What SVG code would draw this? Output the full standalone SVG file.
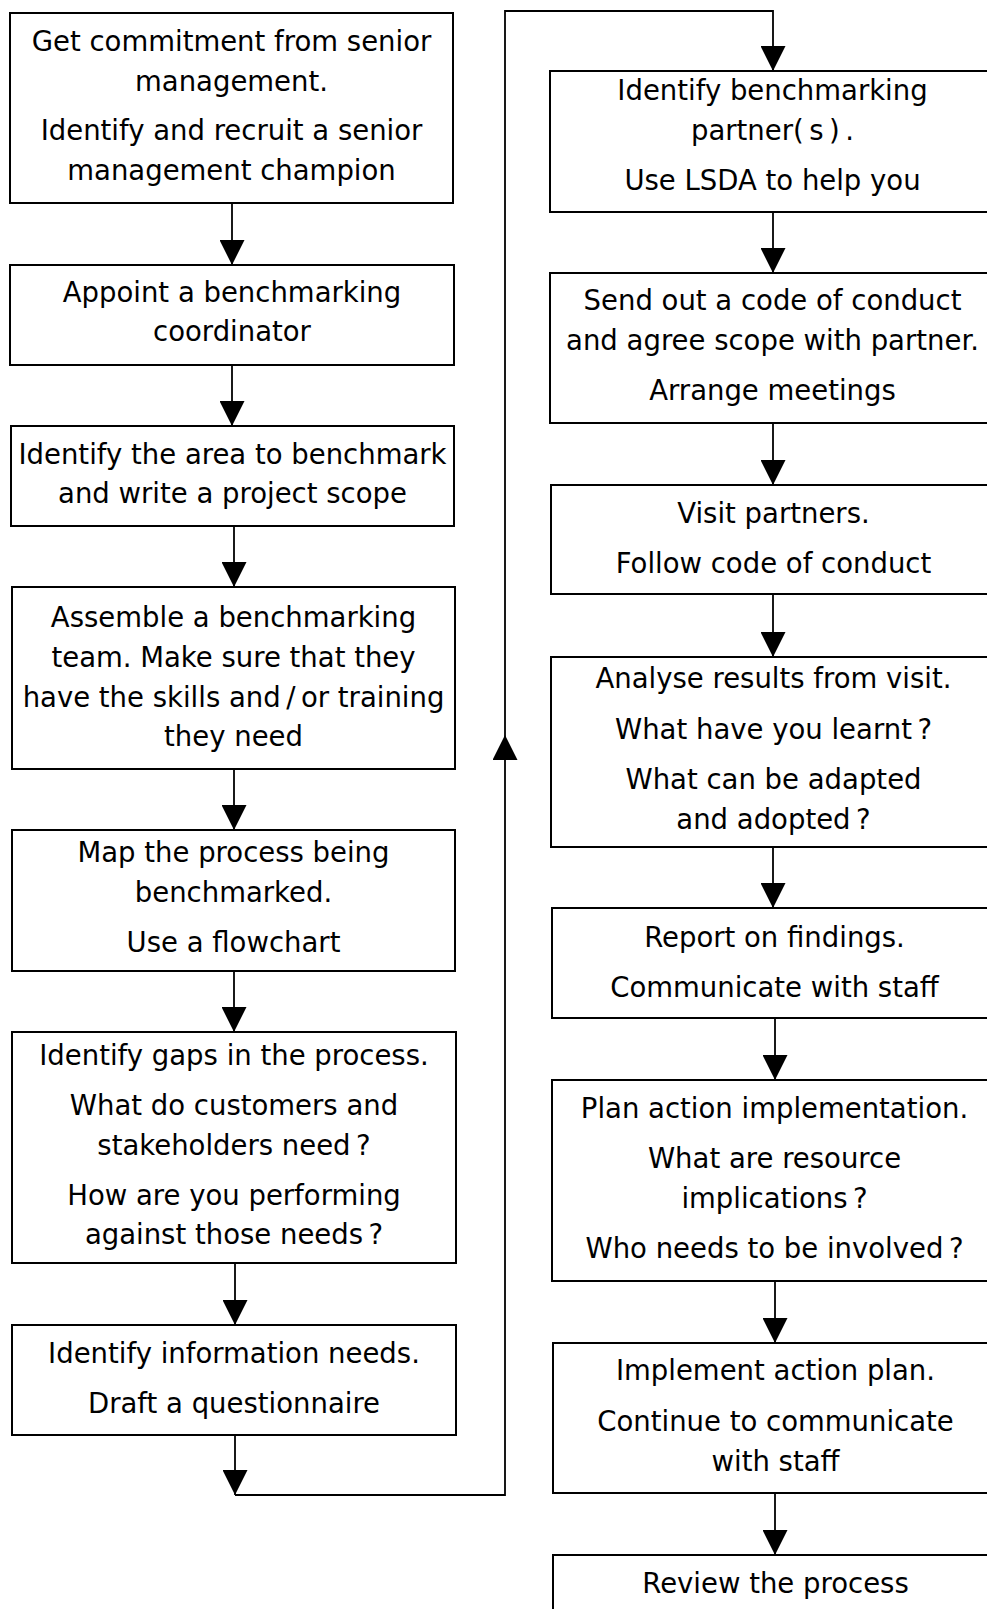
<svg xmlns="http://www.w3.org/2000/svg" width="987" height="1609" viewBox="0 0 987 1609">
<style>
.box{fill:#fff;stroke:#000;stroke-width:2}
.t{font-family:"DejaVu Sans",sans-serif;font-size:27.5px;fill:#000;text-anchor:middle}
.c{fill:none;stroke:#000;stroke-width:1.8}
</style>
<defs>
<marker id="ah" viewBox="0 0 25 25" refX="25" refY="12.5" markerWidth="25" markerHeight="25" markerUnits="userSpaceOnUse" orient="auto">
<path d="M0,0 L25,12.5 L0,25 z" fill="#000"/>
</marker>
</defs>
<rect x="0" y="0" width="987" height="1609" fill="#fff"/>
<g id="connectors">
<path class="c" marker-end="url(#ah)" d="M232,203 V265"/>
<path class="c" marker-end="url(#ah)" d="M232,365 V426"/>
<path class="c" marker-end="url(#ah)" d="M234,526 V587"/>
<path class="c" marker-end="url(#ah)" d="M234,769 V830"/>
<path class="c" marker-end="url(#ah)" d="M234,971 V1032"/>
<path class="c" marker-end="url(#ah)" d="M235,1263 V1325"/>
<path class="c" marker-end="url(#ah)" d="M235,1435 V1495"/>
<path class="c" marker-end="url(#ah)" d="M235,1495 H505 V735"/>
<path class="c" marker-end="url(#ah)" d="M505,735 V11 H773 V71"/>
<path class="c" marker-end="url(#ah)" d="M773,212 V273"/>
<path class="c" marker-end="url(#ah)" d="M773,423 V485"/>
<path class="c" marker-end="url(#ah)" d="M773,594 V657"/>
<path class="c" marker-end="url(#ah)" d="M773,847 V908"/>
<path class="c" marker-end="url(#ah)" d="M775,1018 V1080"/>
<path class="c" marker-end="url(#ah)" d="M775,1281 V1343"/>
<path class="c" marker-end="url(#ah)" d="M775,1493 V1555"/>
</g>
<g id="n1">
<rect class="box" x="10" y="13" width="443" height="190"/>
<text class="t" x="231.5" y="51">Get commitment from senior</text>
<text class="t" x="231.5" y="91">management.</text>
<text class="t" x="231.5" y="140">Identify and recruit a senior</text>
<text class="t" x="231.5" y="180">management champion</text>
</g>
<g id="n2">
<rect class="box" x="10" y="265" width="444" height="100"/>
<text class="t" x="232" y="302">Appoint a benchmarking</text>
<text class="t" x="232" y="341">coordinator</text>
</g>
<g id="n3">
<rect class="box" x="11" y="426" width="443" height="100"/>
<text class="t" x="232.5" y="464">Identify the area to benchmark</text>
<text class="t" x="232.5" y="503">and write a project scope</text>
</g>
<g id="n4">
<rect class="box" x="12" y="587" width="443" height="182"/>
<text class="t" x="233.5" y="627">Assemble a benchmarking</text>
<text class="t" x="233.5" y="667">team. Make sure that they</text>
<text class="t" x="233.5" y="707">have the skills and&#8201;/&#8201;or training</text>
<text class="t" x="233.5" y="746">they need</text>
</g>
<g id="n5">
<rect class="box" x="12" y="830" width="443" height="141"/>
<text class="t" x="233.5" y="862">Map the process being</text>
<text class="t" x="233.5" y="902">benchmarked.</text>
<text class="t" x="233.5" y="952">Use a flowchart</text>
</g>
<g id="n6">
<rect class="box" x="12" y="1032" width="444" height="231"/>
<text class="t" x="234" y="1065">Identify gaps in the process.</text>
<text class="t" x="234" y="1115">What do customers and</text>
<text class="t" x="234" y="1155">stakeholders need&#8201;?</text>
<text class="t" x="234" y="1205">How are you performing</text>
<text class="t" x="234" y="1244">against those needs&#8201;?</text>
</g>
<g id="n7">
<rect class="box" x="12" y="1325" width="444" height="110"/>
<text class="t" x="234" y="1363">Identify information needs.</text>
<text class="t" x="234" y="1413">Draft a questionnaire</text>
</g>
<g id="n8">
<rect class="box" x="550" y="71" width="445" height="141"/>
<text class="t" x="772.5" y="100">Identify benchmarking</text>
<text class="t" x="772.5" y="140">partner(&#8201;s&#8201;)&#8201;.</text>
<text class="t" x="772.5" y="190">Use LSDA to help you</text>
</g>
<g id="n9">
<rect class="box" x="550" y="273" width="445" height="150"/>
<text class="t" x="772.5" y="310">Send out a code of conduct</text>
<text class="t" x="772.5" y="350">and agree scope with partner.</text>
<text class="t" x="772.5" y="400">Arrange meetings</text>
</g>
<g id="n10">
<rect class="box" x="551" y="485" width="445" height="109"/>
<text class="t" x="773.5" y="523">Visit partners.</text>
<text class="t" x="773.5" y="573">Follow code of conduct</text>
</g>
<g id="n11">
<rect class="box" x="551" y="657" width="445" height="190"/>
<text class="t" x="773.5" y="688">Analyse results from visit.</text>
<text class="t" x="773.5" y="739">What have you learnt&#8201;?</text>
<text class="t" x="773.5" y="789">What can be adapted</text>
<text class="t" x="773.5" y="829">and adopted&#8201;?</text>
</g>
<g id="n12">
<rect class="box" x="552" y="908" width="445" height="110"/>
<text class="t" x="774.5" y="947">Report on findings.</text>
<text class="t" x="774.5" y="997">Communicate with staff</text>
</g>
<g id="n13">
<rect class="box" x="552" y="1080" width="445" height="201"/>
<text class="t" x="774.5" y="1118">Plan action implementation.</text>
<text class="t" x="774.5" y="1168">What are resource</text>
<text class="t" x="774.5" y="1208">implications&#8201;?</text>
<text class="t" x="774.5" y="1258">Who needs to be involved&#8201;?</text>
</g>
<g id="n14">
<rect class="box" x="553" y="1343" width="445" height="150"/>
<text class="t" x="775.5" y="1380">Implement action plan.</text>
<text class="t" x="775.5" y="1431">Continue to communicate</text>
<text class="t" x="775.5" y="1471">with staff</text>
</g>
<g id="n15">
<rect class="box" x="553" y="1555" width="445" height="80"/>
<text class="t" x="775.5" y="1593">Review the process</text>
</g>
</svg>
